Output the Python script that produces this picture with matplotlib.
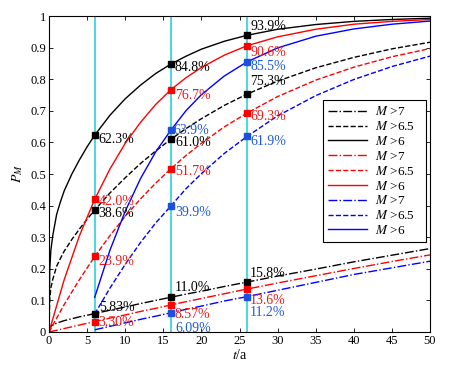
import matplotlib
matplotlib.use('Agg')
import matplotlib.pyplot as plt

plt.rcParams['font.family'] = ['Liberation Serif', 'DejaVu Serif']
plt.rcParams['mathtext.fontset'] = 'stix'

# --- data ---
t_main = [0, 0.1, 0.25, 0.5, 1, 1.5, 2, 3, 4, 5, 6, 8, 10, 12, 14, 16, 18, 20, 23, 26, 30, 35, 40, 45, 50]
black_m6 = [0, 0.20, 0.26, 0.306, 0.372, 0.412, 0.447, 0.50, 0.545, 0.586, 0.623, 0.686, 0.738, 0.781,
            0.818, 0.848, 0.873, 0.895, 0.920, 0.939, 0.958, 0.973, 0.983, 0.989, 0.993]
black_m65 = [0, 0.105, 0.14, 0.167, 0.208, 0.233, 0.256, 0.293, 0.326, 0.357, 0.386, 0.440, 0.488, 0.533,
             0.573, 0.610, 0.644, 0.675, 0.717, 0.753, 0.794, 0.836, 0.869, 0.896, 0.917]
black_m7 = [0, 0.012, 0.018, 0.022, 0.028, 0.032, 0.036, 0.042, 0.048, 0.053, 0.0583, 0.069, 0.079, 0.090,
            0.100, 0.110, 0.120, 0.129, 0.144, 0.158, 0.177, 0.199, 0.222, 0.243, 0.264]

t_red = [0, 2, 4, 6, 8, 10, 12, 14, 16, 18, 20, 23, 26, 30, 35, 40, 45, 50]
red_m6 = [0, 0.166, 0.305, 0.420, 0.516, 0.597, 0.663, 0.720, 0.767, 0.805, 0.837, 0.876, 0.906, 0.934,
          0.958, 0.974, 0.983, 0.989]
red_m65 = [0, 0.087, 0.166, 0.239, 0.305, 0.366, 0.421, 0.471, 0.517, 0.559, 0.597, 0.649, 0.693, 0.745,
           0.797, 0.838, 0.871, 0.897]
red_m7 = [0, 0.011, 0.022, 0.033, 0.044, 0.054, 0.065, 0.075, 0.0857, 0.096, 0.106, 0.121, 0.136, 0.155,
          0.178, 0.201, 0.223, 0.244]

t_blue = [6, 8, 10, 12, 14, 16, 18, 20, 23, 26, 30, 35, 40, 45, 50]
blue_m6 = [0.11, 0.259, 0.382, 0.485, 0.570, 0.639, 0.701, 0.751, 0.810, 0.855, 0.899, 0.936, 0.959, 0.974, 0.984]
blue_m65 = [0.057, 0.139, 0.214, 0.283, 0.345, 0.399, 0.454, 0.501, 0.565, 0.619, 0.684, 0.748, 0.799, 0.840, 0.873]
blue_m7 = [0.007, 0.018, 0.029, 0.040, 0.050, 0.0609, 0.072, 0.082, 0.098, 0.112, 0.132, 0.157, 0.182, 0.203, 0.224]

mark_times = [6, 16, 26]
# marked values (t, value, label, group)
marks = [
    (6, 0.623, '62.3%', 'k'), (6, 0.420, '42.0%', 'r'), (6, 0.386, '38.6%', 'k'),
    (6, 0.239, '23.9%', 'r'), (6, 0.0583, '5.83%', 'k'), (6, 0.033, '3.30%', 'r'),
    (16, 0.848, '84.8%', 'k'), (16, 0.767, '76.7%', 'r'), (16, 0.639, '63.9%', 'b'),
    (16, 0.610, '61.0%', 'k'), (16, 0.517, '51.7%', 'r'), (16, 0.399, '39.9%', 'b'),
    (16, 0.110, '11.0%', 'k'), (16, 0.0857, '8.57%', 'r'), (16, 0.0609, '6.09%', 'b'),
    (26, 0.939, '93.9%', 'k'), (26, 0.906, '90.6%', 'r'), (26, 0.855, '85.5%', 'b'),
    (26, 0.753, '75.3%', 'k'), (26, 0.693, '69.3%', 'r'), (26, 0.619, '61.9%', 'b'),
    (26, 0.158, '15.8%', 'k'), (26, 0.136, '13.6%', 'r'), (26, 0.112, '11.2%', 'b'),
]
# label offsets in pixels (dx, dy), same order as marks
label_offsets = [
    (4, -4), (4, -2), (4, -3), (4, -5), (4, 6), (4, -1),
    (4, -3), (4, -6), (2, 0), (4, -3), (4, -3), (4, -7), (4, 10), (4, -10), (4, -16),
    (3, 9), (3, -7), (3, -5), (3, 13), (3, -3), (3, -5), (3, 9), (3, -11), (3, -16),
]

line_col = {'k': 'k', 'r': '#ff0000', 'b': '#0000ff'}
text_col = {'k': 'k', 'r': '#f01818', 'b': '#1e5ad8'}

fig = plt.figure(figsize=(4.5, 3.71), dpi=100)
ax = fig.add_axes([49 / 450, 1 - 332 / 371, 381 / 450, 316 / 371])

for tm in mark_times:
    ax.plot([tm, tm], [0, 1], color='#48d8e2', lw=1.4, zorder=1)

lw = 1.0
ax.plot(t_main, black_m7, 'k-.', lw=lw, label=r'$M$ >7')
ax.plot(t_main, black_m65, 'k--', lw=lw, label=r'$M$ >6.5')
ax.plot(t_main, black_m6, 'k-', lw=lw, label=r'$M$ >6')
ax.plot(t_red, red_m7, '-.', color=line_col['r'], lw=lw, label=r'$M$ >7')
ax.plot(t_red, red_m65, '--', color=line_col['r'], lw=lw, label=r'$M$ >6.5')
ax.plot(t_red, red_m6, '-', color=line_col['r'], lw=lw, label=r'$M$ >6')
ax.plot(t_blue, blue_m7, '-.', color=line_col['b'], lw=lw, label=r'$M$ >7')
ax.plot(t_blue, blue_m65, '--', color=line_col['b'], lw=lw, label=r'$M$ >6.5')
ax.plot(t_blue, blue_m6, '-', color=line_col['b'], lw=lw, label=r'$M$ >6')

for (tm, v, lab, g), (dx, dy) in zip(marks, label_offsets):
    mc = 'k' if g == 'k' else ('#ff0000' if g == 'r' else '#1e50e0')
    ax.plot(tm, v, 's', color=mc, ms=4, zorder=4)
    ax.annotate(lab, (tm, v), xytext=(dx, dy), textcoords='offset pixels',
                ha='left', va='center', fontsize=10, color=text_col[g], zorder=5)

ax.set_xlim(0, 50)
ax.set_ylim(0, 1)
ax.set_xticks(range(0, 51, 5))
ax.set_yticks([i / 10 for i in range(11)])
ax.set_yticklabels(['0', '0.1', '0.2', '0.3', '0.4', '0.5', '0.6', '0.7', '0.8', '0.9', '1'])
ax.tick_params(direction='in', top=True, right=True, length=3, width=0.6, labelsize=9, pad=2)
for s in ax.spines.values():
    s.set_linewidth(0.8)

ax.set_xlabel(r'$t$/a', fontsize=10, labelpad=1)
ax.set_ylabel(r'$P_M$', fontsize=10, labelpad=4)

leg = ax.legend(loc='upper left', bbox_to_anchor=(0.718, 0.282, 0.272, 0.452), mode='expand',
                fontsize=9.5, handlelength=3.0, handletextpad=0.6, labelspacing=0.14,
                borderpad=0.4, borderaxespad=0, fancybox=False, framealpha=1, edgecolor='k')
leg.get_frame().set_linewidth(0.8)

fig.savefig('out.png', dpi=100, facecolor='white')
